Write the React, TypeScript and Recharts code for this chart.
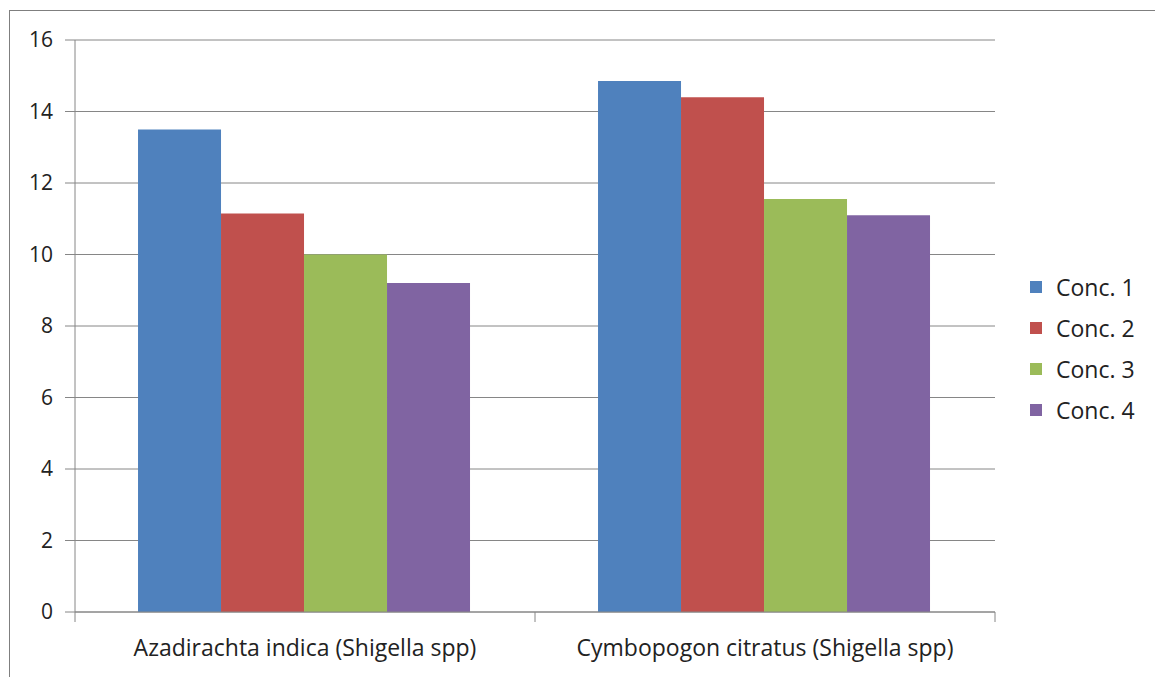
import { Bar, BarChart, CartesianGrid, Legend, XAxis, YAxis } from "recharts"

const CATEGORIES = ["Azadirachta indica (Shigella spp)", "Cymbopogon citratus (Shigella spp)"]
const SERIES_NAMES = ["Conc. 1", "Conc. 2", "Conc. 3", "Conc. 4"]
const CONC_1 = [13.5, 14.85]
const CONC_2 = [11.15, 14.4]
const CONC_3 = [10.0, 11.55]
const CONC_4 = [9.2, 11.1]
const Y_TICKS = [0, 2, 4, 6, 8, 10, 12, 14, 16]

const COLORS = ["#4F81BD", "#C0504D", "#9BBB59", "#8064A2"]
const KEYS = ["c1", "c2", "c3", "c4"] as const

const W = 1155
const H = 677
const MARGIN = { top: 40, right: 160, bottom: 0, left: 0 }
const Y_AXIS_W = 75
const PLOT_W = W - MARGIN.left - MARGIN.right - Y_AXIS_W
const AXIS_GREY = "#868686"
const TEXT = "#222"
const LABEL_SIZE = 23
const TICK_SIZE = 21

const data = CATEGORIES.map((name, i) => ({
  name,
  c1: CONC_1[i],
  c2: CONC_2[i],
  c3: CONC_3[i],
  c4: CONC_4[i],
}))

// Excel puts category ticks on the boundaries, not the centers
function CategoryTick(props: any) {
  const { x, y, payload, index } = props
  const half = PLOT_W / CATEGORIES.length / 2
  const axisY = y - 10
  const last = index === CATEGORIES.length - 1
  return (
    <g>
      <line x1={x - half} x2={x - half} y1={axisY} y2={axisY + 10} stroke={AXIS_GREY} />
      {last && <line x1={x + half} x2={x + half} y1={axisY} y2={axisY + 10} stroke={AXIS_GREY} />}
      <text x={x} y={axisY + 44} textAnchor="middle" fill={TEXT} fontSize={LABEL_SIZE}>
        {payload.value}
      </text>
    </g>
  )
}

function LegendList({ payload }: any) {
  return (
    <ul style={{ listStyle: "none", margin: 0, padding: 0 }}>
      {(payload ?? []).map((p: any) => (
        <li
          key={p.value}
          style={{ display: "flex", alignItems: "center", height: 41, fontSize: LABEL_SIZE, color: TEXT }}
        >
          <span style={{ width: 12, height: 12, background: p.color, marginRight: 14, flex: "none" }} />
          <span>{p.value}</span>
        </li>
      ))}
    </ul>
  )
}

export default function App() {
  return (
    <div
      style={{
        position: "absolute",
        left: 0,
        top: 0,
        width: W,
        height: H,
        overflow: "hidden",
        background: "#fff",
        fontFamily: "'Open Sans', sans-serif",
      }}
    >
      <div
        style={{
          position: "absolute",
          left: 9,
          top: 10,
          width: W,
          height: H,
          borderLeft: "1px solid #7f7f7f",
          borderTop: "1px solid #7f7f7f",
        }}
      />
      <div style={{ position: "absolute", left: 0, top: 0 }}>
        <BarChart width={W} height={H} data={data} margin={MARGIN} barCategoryGap="13.7%" barGap={0}>
          <CartesianGrid vertical={false} stroke={AXIS_GREY} />
          <XAxis
            dataKey="name"
            height={65}
            axisLine={{ stroke: AXIS_GREY }}
            tickLine={false}
            tickSize={10}
            tickMargin={0}
            interval={0}
            tick={<CategoryTick />}
          />
          <YAxis
            width={Y_AXIS_W}
            domain={[0, 16]}
            ticks={Y_TICKS}
            interval={0}
            axisLine={{ stroke: AXIS_GREY }}
            tickLine={{ stroke: AXIS_GREY }}
            tickSize={10}
            tickMargin={12}
            tick={{ fill: TEXT, fontSize: TICK_SIZE }}
          />
          <Legend
            layout="vertical"
            align="center"
            verticalAlign="middle"
            wrapperStyle={{ left: 1030, top: 266, width: 125 }}
            content={<LegendList />}
          />
          {KEYS.map((k, i) => (
            <Bar key={k} dataKey={k} name={SERIES_NAMES[i]} fill={COLORS[i]} isAnimationActive={false} />
          ))}
        </BarChart>
      </div>
    </div>
  )
}
